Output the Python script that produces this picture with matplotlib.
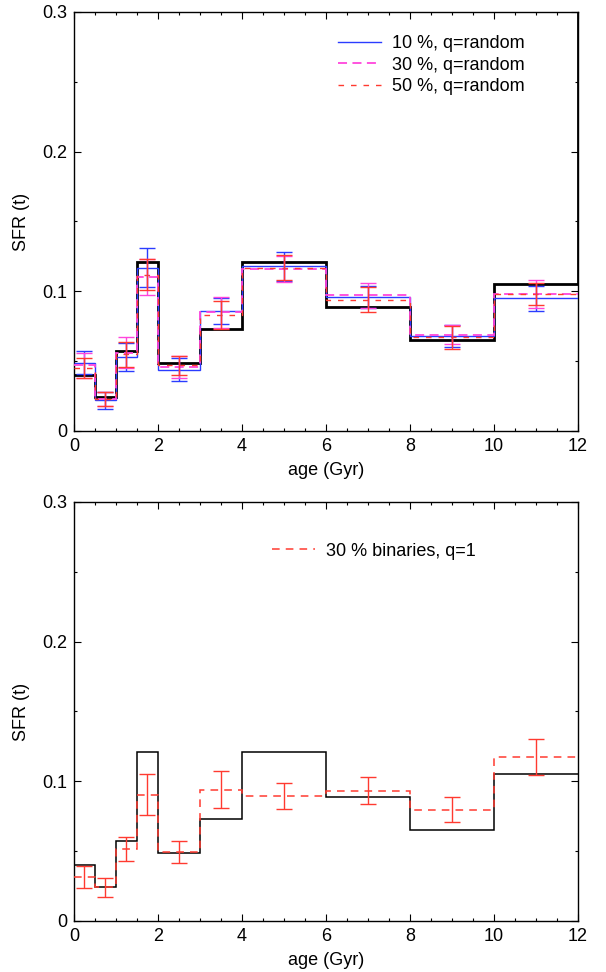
import matplotlib
matplotlib.use("Agg")
import matplotlib.pyplot as plt
from matplotlib.ticker import MultipleLocator, FuncFormatter

plt.rcParams["font.family"] = ["Liberation Sans", "DejaVu Sans"]

# age bins (Gyr) and the input (true) star formation rate
age_edges = [0, 0.5, 1, 1.5, 2, 3, 4, 6, 8, 10, 12, 12.5]
true_sfr = [0.040, 0.024, 0.057, 0.121, 0.049, 0.073, 0.121, 0.089, 0.065, 0.105, 0.40]
bin_centers = [0.25, 0.75, 1.25, 1.75, 2.5, 3.5, 5, 7, 9, 11]

# top panel: recovered SFR for different binary fractions (q random)
sfr_10 = [0.049, 0.022, 0.053, 0.117, 0.044, 0.086, 0.118, 0.096, 0.068, 0.095]
err_10 = [0.008, 0.006, 0.010, 0.014, 0.0085, 0.0095, 0.0105, 0.008, 0.008, 0.009]
sfr_30 = [0.047, 0.023, 0.056, 0.110, 0.046, 0.085, 0.116, 0.097, 0.069, 0.098]
err_30 = [0.009, 0.005, 0.011, 0.013, 0.008, 0.011, 0.009, 0.009, 0.007, 0.010]
sfr_50 = [0.045, 0.023, 0.055, 0.112, 0.047, 0.083, 0.117, 0.094, 0.067, 0.098]
err_50 = [0.007, 0.005, 0.009, 0.011, 0.007, 0.010, 0.009, 0.009, 0.008, 0.008]

# bottom panel: 30 % binaries with q = 1
sfr_q1 = [0.0315, 0.024, 0.0515, 0.0905, 0.0496, 0.094, 0.0895, 0.0933, 0.0797, 0.1172]
err_q1 = [0.0081, 0.0068, 0.0083, 0.0145, 0.0079, 0.0132, 0.0093, 0.0099, 0.0089, 0.0128]

BLUE = "#2a3cff"
PINK = "#ff45dc"
RED = "#ff3a30"
FS = 13

fig = plt.figure(figsize=(6.06, 9.72), dpi=100)
ax_top = fig.add_axes([0.1221, 0.5566, 0.8317, 0.4311])
ax_bot = fig.add_axes([0.1221, 0.0525, 0.8317, 0.4311])

edges10 = age_edges[:-1]

# top panel
ax_top.stairs(true_sfr, age_edges, baseline=None, color="black", lw=2.0, zorder=2)
ax_top.stairs(sfr_10, edges10, baseline=None, color=BLUE, lw=1.0,
              label="10 %, q=random", zorder=3)
ax_top.stairs(sfr_30, edges10, baseline=None, color=PINK, lw=1.3,
              ls=(0, (5, 3)), label="30 %, q=random", zorder=3)
ax_top.stairs(sfr_50, edges10, baseline=None, color=RED, lw=1.0,
              ls=(0, (4, 5)), label="50 %, q=random", zorder=3)
for vals, errs, col in [(sfr_10, err_10, BLUE), (sfr_30, err_30, PINK),
                        (sfr_50, err_50, RED)]:
    ax_top.errorbar(bin_centers, vals, yerr=errs, fmt="none", ecolor=col,
                    elinewidth=1.0, capsize=5.5, capthick=1.0, zorder=4)
ax_top.legend(loc="upper left", bbox_to_anchor=(0.524, 0.945), frameon=False,
              fontsize=FS, handlelength=2.4, handletextpad=0.6,
              labelspacing=0.25, borderpad=0, borderaxespad=0)

# bottom panel
ax_bot.stairs(true_sfr[:-1], edges10, baseline=None, color="black", lw=1.1, zorder=2)
ax_bot.stairs(sfr_q1, edges10, baseline=None, color=RED, lw=1.1,
              ls=(0, (5, 4)), label="30 % binaries, q=1", zorder=3)
ax_bot.errorbar(bin_centers, sfr_q1, yerr=err_q1, fmt="none", ecolor=RED,
                elinewidth=1.0, capsize=5.5, capthick=1.0, zorder=4)
ax_bot.legend(loc="upper left", bbox_to_anchor=(0.393, 0.903), frameon=False,
              fontsize=FS, handlelength=2.4, handletextpad=0.6,
              borderpad=0, borderaxespad=0)

fmt = FuncFormatter(lambda v, p: "0" if abs(v) < 1e-9 else f"{v:g}")
for ax in (ax_top, ax_bot):
    ax.set_xlim(0, 12)
    ax.set_ylim(0, 0.3)
    ax.xaxis.set_major_locator(MultipleLocator(2))
    ax.xaxis.set_minor_locator(MultipleLocator(0.5))
    ax.yaxis.set_major_locator(MultipleLocator(0.1))
    ax.yaxis.set_minor_locator(MultipleLocator(0.05))
    ax.yaxis.set_major_formatter(fmt)
    ax.tick_params(which="both", direction="in", top=True, right=True,
                   labelsize=FS, width=0.8)
    ax.tick_params(which="major", length=5, pad=5)
    ax.tick_params(which="minor", length=2.5)
    for s in ax.spines.values():
        s.set_linewidth(1.0)
    ax.set_xlabel("age (Gyr)", fontsize=FS, labelpad=5)
    ax.set_ylabel("SFR (t)", fontsize=FS, labelpad=9)

fig.savefig("out.png", dpi=100)
